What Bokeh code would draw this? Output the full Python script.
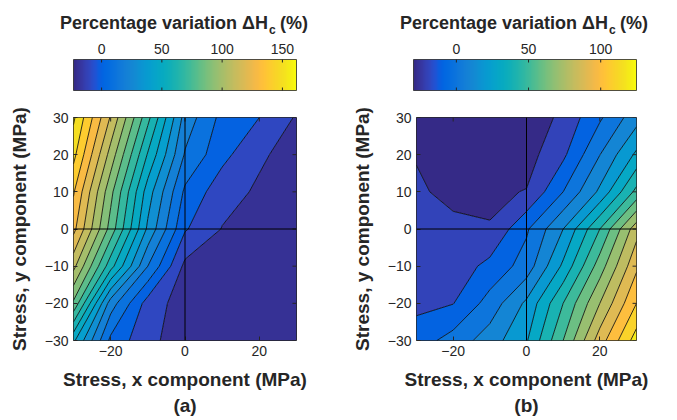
import numpy as np
from bokeh.plotting import figure
from bokeh.models import Range1d, FixedTicker, Span, Title, LinearColorMapper
from bokeh.layouts import row, column
from bokeh.embed import file_html
from bokeh.resources import INLINE
from bokeh.core.properties import value

# ---------------- data ----------------
stress_x = [-30, -20, -10, 0, 10, 20, 30]   # MPa
stress_y = [-30, -20, -10, 0, 10, 20, 30]   # MPa

# percentage variation of Hc, rows = stress_y (from -30 to 30), cols = stress_x
dH_a = [
    [52.0, 7.5, -7.5, -15.0, -16.5, -17.5, -18.5],   # y = -30
    [88.0, 25.0, -4.4, -15.0, -16.5, -17.5, -18.5],  # y = -20
    [113.0, 64.0, 20.0, -12.5, -15.5, -17.0, -18.0], # y = -10
    [133.0, 86.0, 38.0, 1.0, -10.4, -14.0, -16.0],   # y = 0
    [141.0, 93.0, 45.0, 8.0, -6.0, -11.5, -15.0],    # y = 10
    [153.0, 106.0, 59.0, 19.0, 3.0, -8.5, -14.0],    # y = 20
    [161.7, 119.0, 73.0, 26.0, 7.0, 0.0, -11.0],     # y = 30
]
dH_b = [
    [-5.0, 4.0, 15.0, 29.0, 60.0, 95.0, 124.8],      # y = -30
    [-12.5, -10.3, 4.0, 22.0, 50.0, 80.0, 110.0],    # y = -20
    [-15.0, -16.0, -7.0, 4.3, 32.0, 65.0, 98.0],     # y = -10
    [-17.0, -16.0, -19.5, -1.4, 20.0, 50.0, 86.0],   # y = 0
    [-17.5, -24.4, -21.6, -19.6, 0.0, 22.0, 53.0],   # y = 10
    [-21.0, -26.0, -27.0, -24.0, -12.0, 9.8, 32.0],  # y = 20
    [-26.0, -28.5, -29.7, -27.0, -17.5, -1.5, 16.0], # y = 30
]

levels_a = [-20, -10, 0, 10, 20, 30, 40, 50, 60, 70, 80, 90, 100, 110, 120, 130, 140, 150, 160, 170]
levels_b = [-30, -20, -10, 0, 10, 20, 30, 40, 50, 60, 70, 80, 90, 100, 110, 120, 130]

cbar_lim_a = [-23.3, 161.7]
cbar_lim_b = [-29.7, 124.8]
cbar_ticks_a = [0, 50, 100, 150]
cbar_ticks_b = [0, 50, 100]
x_ticks = [-20, 0, 20]
y_ticks = [-30, -20, -10, 0, 10, 20, 30]

cbar_title = "Percentage variation \u0394H"
cbar_sub = "c"
cbar_tail = "(%)"
x_label = "Stress, x component (MPa)"
y_label = "Stress, y component (MPa)"

# ---------------- parula colormap ----------------
PARULA = [
    (0.2081, 0.1663, 0.5292), (0.2116, 0.1898, 0.5777), (0.2123, 0.2138, 0.6270), (0.2081, 0.2386, 0.6771),
    (0.1959, 0.2645, 0.7279), (0.1707, 0.2919, 0.7792), (0.1253, 0.3242, 0.8303), (0.0591, 0.3598, 0.8683),
    (0.0117, 0.3875, 0.8820), (0.0060, 0.4086, 0.8828), (0.0165, 0.4266, 0.8786), (0.0329, 0.4430, 0.8720),
    (0.0498, 0.4586, 0.8641), (0.0629, 0.4737, 0.8554), (0.0723, 0.4887, 0.8467), (0.0779, 0.5040, 0.8384),
    (0.0793, 0.5200, 0.8312), (0.0749, 0.5375, 0.8263), (0.0641, 0.5570, 0.8240), (0.0488, 0.5772, 0.8228),
    (0.0343, 0.5966, 0.8199), (0.0265, 0.6137, 0.8135), (0.0239, 0.6287, 0.8038), (0.0231, 0.6418, 0.7913),
    (0.0228, 0.6535, 0.7768), (0.0267, 0.6642, 0.7607), (0.0384, 0.6743, 0.7436), (0.0590, 0.6838, 0.7254),
    (0.0843, 0.6928, 0.7062), (0.1133, 0.7015, 0.6859), (0.1453, 0.7098, 0.6646), (0.1801, 0.7177, 0.6424),
    (0.2178, 0.7250, 0.6193), (0.2586, 0.7317, 0.5954), (0.3022, 0.7376, 0.5712), (0.3482, 0.7424, 0.5473),
    (0.3953, 0.7459, 0.5244), (0.4420, 0.7481, 0.5033), (0.4871, 0.7491, 0.4840), (0.5300, 0.7491, 0.4661),
    (0.5709, 0.7485, 0.4494), (0.6099, 0.7473, 0.4337), (0.6473, 0.7456, 0.4188), (0.6834, 0.7435, 0.4044),
    (0.7184, 0.7411, 0.3905), (0.7525, 0.7384, 0.3768), (0.7858, 0.7356, 0.3633), (0.8185, 0.7327, 0.3498),
    (0.8507, 0.7299, 0.3360), (0.8824, 0.7274, 0.3217), (0.9139, 0.7258, 0.3063), (0.9450, 0.7261, 0.2886),
    (0.9739, 0.7314, 0.2666), (0.9938, 0.7455, 0.2403), (0.9990, 0.7653, 0.2164), (0.9955, 0.7861, 0.1967),
    (0.9880, 0.8066, 0.1794), (0.9789, 0.8271, 0.1633), (0.9697, 0.8481, 0.1475), (0.9626, 0.8705, 0.1309),
    (0.9589, 0.8949, 0.1132), (0.9598, 0.9218, 0.0948), (0.9661, 0.9514, 0.0755), (0.9763, 0.9831, 0.0538),
]


def parula(t):
    t = min(max(t, 0.0), 1.0) * (len(PARULA) - 1)
    i = min(int(t), len(PARULA) - 2)
    f = t - i
    c = [PARULA[i][k] * (1 - f) + PARULA[i + 1][k] * f for k in range(3)]
    return "#%02x%02x%02x" % tuple(int(round(v * 255)) for v in c)


PAL256 = [parula(i / 255) for i in range(256)]

FONT = "Liberation Sans"
INK = "#262626"

COL_W = [348, 328]          # widths of the two panel columns
FRAME_L = [73, 65]          # frame left border in each column
FRAME = 223
CB_H = 104
MAIN_H = 315
MAIN_TOP = 13
TICK_PX = 4


def make_cbar(width, left, lim, ticks):
    low, high = lim
    s = (high - low) / FRAME                      # value units per pixel of the bar
    p = figure(width=width, height=CB_H,
               x_range=Range1d(low - left * s, high + (width - left - FRAME) * s),
               y_range=Range1d(0, CB_H),
               x_axis_location=None, y_axis_location=None,
               output_backend="svg", toolbar_location=None,
               min_border_left=0, min_border_right=0, min_border_top=0, min_border_bottom=0)
    p.grid.visible = False
    p.outline_line_color = None
    mapper = LinearColorMapper(palette=PAL256, low=low, high=high)
    p.image(image=[np.linspace(low, high, 256).reshape(1, -1)], x=low, y=14,
            dw=high - low, dh=31, color_mapper=mapper)
    p.quad(left=[low], right=[high], bottom=[14], top=[45], fill_color=None,
           line_color=INK, line_width=0.8)
    n = len(ticks)
    p.segment(x0=ticks, y0=[45] * n, x1=ticks, y1=[42] * n, line_color=INK, line_width=1)
    p.segment(x0=ticks, y0=[14] * n, x1=ticks, y1=[17] * n, line_color=INK, line_width=1)
    p.text(x=ticks, y=[55.7] * n, text=[str(t) for t in ticks], text_font=value(FONT),
           text_font_size="14px", text_color=INK, text_align="center", text_baseline="alphabetic")
    cx = (low + high) / 2
    common = dict(text_font=value(FONT), text_font_style="bold", text_color=INK,
                  text_baseline="alphabetic")
    p.text(x=[cx], y=[81.3], text=[cbar_title], text_font_size="18px",
           text_align="right", x_offset=83, **common)
    p.text(x=[cx], y=[74.5], text=[cbar_sub], text_font_size="12px",
           text_align="left", x_offset=84, **common)
    p.text(x=[cx], y=[81.3], text=[cbar_tail], text_font_size="18px",
           text_align="left", x_offset=95, **common)
    return p


def make_main(width, left, Z, levels, lim, tag):
    low, high = lim
    xr = Range1d(stress_x[0], stress_x[-1])
    yr = Range1d(stress_y[0], stress_y[-1])
    p = figure(width=width, height=MAIN_H, x_range=xr, y_range=yr,
               output_backend="svg", toolbar_location=None,
               min_border_left=left, min_border_right=width - left - FRAME,
               min_border_top=MAIN_TOP, min_border_bottom=MAIN_H - MAIN_TOP - FRAME)
    fills = [parula((lv - low) / (high - low)) for lv in levels[:-1]]
    p.contour(x=stress_x, y=stress_y, z=np.array(Z), levels=levels, fill_color=fills,
              line_color="black", line_width=0.8)
    p.add_layout(Span(location=0, dimension="width", line_color="black", line_width=1))
    p.add_layout(Span(location=0, dimension="height", line_color="black", line_width=1))
    # inward tick marks on the top and right edges (box style)
    dy = TICK_PX * (yr.end - yr.start) / FRAME
    dx = TICK_PX * (xr.end - xr.start) / FRAME
    p.segment(x0=x_ticks, y0=[yr.end] * len(x_ticks), x1=x_ticks,
              y1=[yr.end - dy] * len(x_ticks), line_color=INK, line_width=1)
    p.segment(x0=[xr.end] * len(y_ticks), y0=y_ticks, x1=[xr.end - dx] * len(y_ticks),
              y1=y_ticks, line_color=INK, line_width=1)
    p.grid.visible = False
    p.outline_line_color = INK
    p.outline_line_width = 1
    p.xaxis.ticker = FixedTicker(ticks=x_ticks)
    p.yaxis.ticker = FixedTicker(ticks=y_ticks)
    p.xaxis.axis_label = x_label
    p.yaxis.axis_label = y_label
    for ax in (p.xaxis[0], p.yaxis[0]):
        ax.major_tick_in = TICK_PX
        ax.major_tick_out = 0
        ax.major_tick_line_color = INK
        ax.minor_tick_line_color = None
        ax.axis_line_color = None
        ax.major_label_text_font = FONT
        ax.major_label_text_font_size = "14px"
        ax.major_label_text_color = INK
        ax.major_label_standoff = 5
        ax.axis_label_text_font = FONT
        ax.axis_label_text_font_size = "19px"
        ax.axis_label_text_font_style = "bold"
        ax.axis_label_text_color = INK
    p.xaxis.axis_label_standoff = 10
    p.yaxis.axis_label_standoff = 12
    p.add_layout(Title(text=tag, align="center", text_font=FONT, text_font_size="19px",
                       text_font_style="bold", text_color=INK, standoff=0), "below")
    return p


cb_a = make_cbar(COL_W[0], FRAME_L[0], cbar_lim_a, cbar_ticks_a)
cb_b = make_cbar(COL_W[1], FRAME_L[1], cbar_lim_b, cbar_ticks_b)
main_a = make_main(COL_W[0], FRAME_L[0], dH_a, levels_a, cbar_lim_a, "(a)")
main_b = make_main(COL_W[1], FRAME_L[1], dH_b, levels_b, cbar_lim_b, "(b)")

layout = column(row(cb_a, cb_b), row(main_a, main_b))
open("out.html", "w").write(file_html(layout, INLINE))
